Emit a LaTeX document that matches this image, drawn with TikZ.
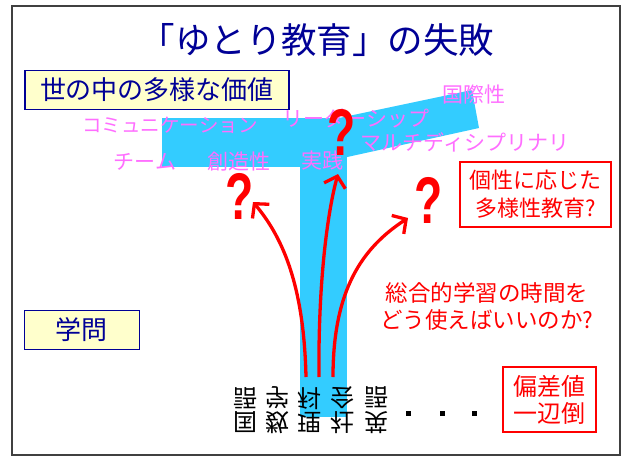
\documentclass[tikz,border=0pt]{standalone}
\usepackage{fontspec}
\setmainfont{Noto Sans CJK JP}
\newfontfamily\qfont{Liberation Sans}
\usetikzlibrary{arrows.meta}
\definecolor{navyt}{RGB}{0,0,150}
\definecolor{tblue}{RGB}{51,204,255}
\definecolor{pinkt}{RGB}{255,110,255}
\definecolor{redt}{RGB}{255,0,0}
\definecolor{yelbox}{RGB}{255,255,204}
\tikzset{
  pinklabel/.style={text=pinkt, font=\fontsize{21}{21}\selectfont, inner sep=0pt},
  yelbox/.style={draw=navyt, line width=1.2pt, fill=yelbox, text=navyt, font=\fontsize{26}{26}\selectfont, inner sep=0pt},
  redbox/.style={draw=redt, line width=2.5pt, text=redt, inner sep=0pt, align=center},
  qmark/.style={text=redt, font=\qfont\bfseries\fontsize{66}{66}\selectfont, inner sep=0pt},
  subj/.style={font=\fontsize{24}{26}\selectfont, align=center, inner sep=0pt},
  redarrow/.style={draw=redt, line width=3.3pt, -{Straight Barb[length=10pt,width=22pt]}},
}
\begin{document}
\begin{tikzpicture}[x=1pt,y=-1pt]
\useasboundingbox (0,0) rectangle (625,461);
\fill[white] (0,0) rectangle (625,461);
\draw[line width=2pt, black!75] (12,6) rectangle (620,455);

% title
\node[text=navyt, font=\fontsize{35.5}{35.5}\selectfont, inner sep=0pt] (title) at (317,40) {「ゆとり教育」の失敗};

% T shape
\fill[tblue] (162,118) rectangle (347,167);
\fill[tblue] (300,118) rectangle (347,417);
\fill[tblue] (320,122) -- (472,90) -- (479,128) -- (320,163) -- cycle;

% boxes
\node[yelbox, minimum width=264pt, minimum height=39pt] (values) at (157,90) {世の中の多様な価値};
\node[yelbox, minimum width=115pt, minimum height=39pt] (gakumon) at (82,330) {学問};

% pink labels
\node[pinklabel] (kokusai) at (474,95) {国際性};
\node[pinklabel, font=\fontsize{19.5}{19.5}\selectfont] (comm) at (170,125) {コミュニケーション};
\node[pinklabel] (leader) at (356,118) {リーダーシップ};
\node[pinklabel] (multi) at (465,142) {マルチディシプリナリ};
\node[pinklabel] (team) at (145,162) {チーム};
\node[pinklabel] (souzou) at (239,162) {創造性};
\node[pinklabel] (jissen) at (322,161) {実践};

% question marks
\node[qmark] (q1) at (240,196) {\scalebox{0.7}[1]{?}};
\node[qmark] (q2) at (342,132) {\scalebox{0.7}[1]{?}};
\node[qmark] (q3) at (429,200) {\scalebox{0.7}[1]{?}};

% red boxes and text
\node[redbox, minimum width=151pt, minimum height=65pt, font=\fontsize{22}{28}\selectfont] (kosei) at (535.5,194.5) {個性に応じた\\多様性教育?};
\node[text=redt, font=\fontsize{22.5}{27}\selectfont, align=center, inner sep=0pt] (sougou) at (487,306) {総合的学習の時間を\\どう使えばいいのか?};
\node[redbox, minimum width=93pt, minimum height=65pt, font=\fontsize{24}{27}\selectfont] (hensa) at (549.5,399.5) {偏差値\\一辺倒};

% subjects (vertically flipped)
\node[subj] (kokugo) at (245,410) {\scalebox{1}[-1]{\shortstack{国\\語}}};
\node[subj] (suugaku) at (277,410) {\scalebox{1}[-1]{\shortstack{数\\学}}};
\node[subj] (rika) at (309,410) {\scalebox{1}[-1]{\shortstack{理\\科}}};
\node[subj] (shakai) at (342,410) {\scalebox{1}[-1]{\shortstack{社\\会}}};
\node[subj] (eigo) at (376,410) {\scalebox{1}[-1]{\shortstack{英\\語}}};

% dots
\foreach \dx/\nm in {408/d1,442/d2,474/d3}
  \fill (\dx-2.5,410.5) rectangle (\dx+2.5,415.5);

% arrows
\coordinate (s1) at (306,377);
\coordinate (s2) at (319,377);
\coordinate (s3) at (333,377);
\coordinate (t1) at (253,202);
\coordinate (t2) at (338,174);
\coordinate (t3) at (408,218);
\draw[redarrow] (s1) .. controls (304,290) and (285,240) .. (t1);
\draw[redarrow] (s2) .. controls (318,280) and (328,210) .. (t2);
\draw[redarrow] (s3) .. controls (333,290) and (362,248) .. (t3);
\end{tikzpicture}
\end{document}
